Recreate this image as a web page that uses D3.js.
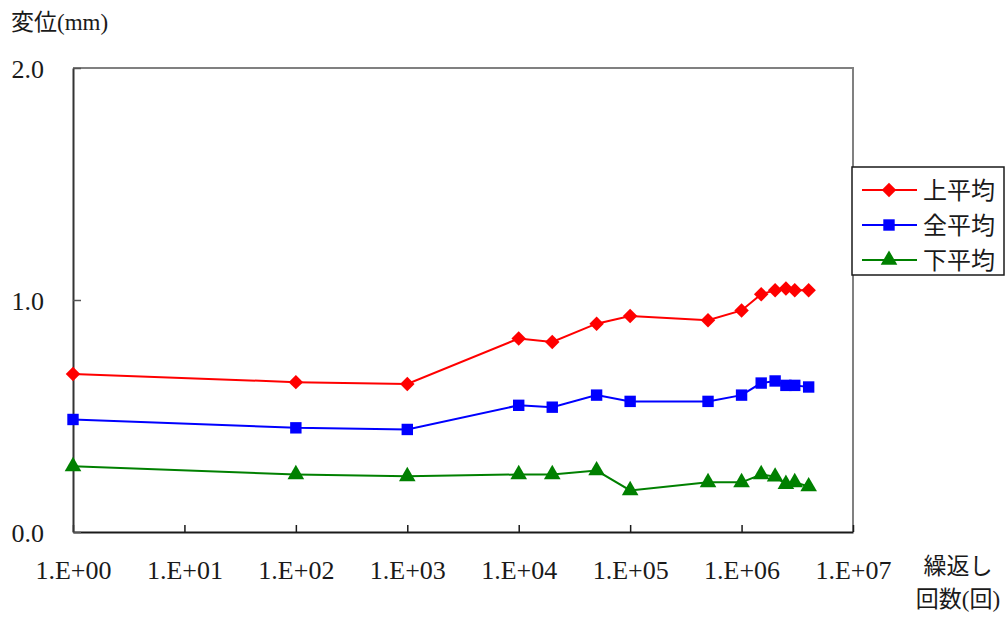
<!DOCTYPE html>
<html>
<head>
<meta charset="utf-8">
<script src="https://cdn.jsdelivr.net/npm/d3@7"></script>
<style>
  html, body { margin: 0; padding: 0; background: #fff; }
  svg { display: block; }
  text { font-family: "Liberation Serif", "Noto Sans CJK JP", serif; fill: #1a1a1a; }
  .jp { font-family: "Noto Sans CJK JP", "Liberation Serif", sans-serif; }
</style>
</head>
<body>
<svg id="chart" width="1008" height="617"></svg>
<script>
// Cycle counts (x) and average displacement in mm for each gauge group
const cycles = [1, 100, 1000, 1e4, 2e4, 5e4, 1e5, 5e5, 1e6, 1.5e6, 2e6, 2.5e6, 3e6, 4e6];
const upperAvg = [0.681, 0.646, 0.638, 0.834, 0.819, 0.898, 0.931, 0.913, 0.955, 1.025, 1.042, 1.050, 1.042, 1.042];
const totalAvg = [0.485, 0.449, 0.442, 0.546, 0.538, 0.590, 0.563, 0.563, 0.590, 0.642, 0.651, 0.632, 0.632, 0.625];
const lowerAvg = [0.283, 0.248, 0.240, 0.248, 0.248, 0.265, 0.179, 0.214, 0.214, 0.248, 0.238, 0.206, 0.214, 0.196];

const seriesNames = ["上平均", "全平均", "下平均"];
const seriesColors = ["#ff0000", "#0000ff", "#008000"];
// Diamond is drawn as a square turned 45 degrees
const seriesSymbols = [d3.symbolSquare, d3.symbolSquare, d3.symbolTriangle];
const symbolSizes = [105, 130, 120];
const symbolRotate = [45, 0, 0];

const xTicks = [1, 10, 100, 1e3, 1e4, 1e5, 1e6, 1e7];
const yTicks = [0, 1, 2];

const series = [upperAvg, totalAvg, lowerAvg];

const svg = d3.select("#chart");
const plot = { left: 73, right: 853, top: 68, bottom: 532 };

const x = d3.scaleLog().domain([1, 1e7]).range([plot.left, plot.right]);
const y = d3.scaleLinear().domain([0, 2]).range([plot.bottom, plot.top]);

// Plot frame: grey top/right edges
svg.append("path")
  .attr("d", `M${plot.left},${plot.top}H${plot.right}V${plot.bottom}`)
  .attr("fill", "none").attr("stroke", "#808080").attr("stroke-width", 2);

// X axis with inward ticks
const xAxis = svg.append("g")
  .attr("transform", `translate(0,${plot.bottom})`)
  .call(d3.axisBottom(x).tickValues(xTicks).tickSizeInner(-7).tickSizeOuter(0)
    .tickFormat(d => "1.E+" + String(Math.round(Math.log10(d))).padStart(2, "0")));
xAxis.select(".domain").attr("stroke", "#1a1a1a").attr("stroke-width", 2);
xAxis.selectAll(".tick line").attr("stroke", "#1a1a1a").attr("stroke-width", 1.5);
xAxis.selectAll(".tick text")
  .attr("y", 47).attr("dy", 0)
  .style("font-size", "26px").style("font-family", "Liberation Serif").attr("fill", "#1a1a1a");

// Y axis with inward ticks
const yAxis = svg.append("g")
  .attr("transform", `translate(${plot.left},0)`)
  .call(d3.axisLeft(y).tickValues(yTicks).tickSizeInner(-8).tickSizeOuter(0).tickFormat(d3.format(".1f")));
yAxis.select(".domain").attr("stroke", "#333").attr("stroke-width", 2);
yAxis.selectAll(".tick line").attr("stroke", "#555").attr("stroke-width", 1.5);
yAxis.selectAll(".tick text")
  .attr("x", -29).attr("dy", "0.36em")
  .style("font-size", "26px").style("font-family", "Liberation Serif").attr("fill", "#1a1a1a");

// Series lines and markers
const line = d3.line().x((d, i) => x(cycles[i])).y(d => y(d));
series.forEach((vals, s) => {
  svg.append("path")
    .datum(vals)
    .attr("d", line)
    .attr("fill", "none")
    .attr("stroke", seriesColors[s])
    .attr("stroke-width", 2);
  svg.append("g").selectAll("path")
    .data(vals)
    .join("path")
    .attr("d", d3.symbol(seriesSymbols[s], symbolSizes[s]))
    .attr("transform", (d, i) => `translate(${x(cycles[i])},${y(d)}) rotate(${symbolRotate[s]})`)
    .attr("fill", seriesColors[s]);
});

// Legend
const legend = svg.append("g").attr("transform", "translate(852,167)");
legend.append("rect")
  .attr("width", 152).attr("height", 108)
  .attr("fill", "#fff").attr("stroke", "#1a1a1a").attr("stroke-width", 1.5);
seriesNames.forEach((name, s) => {
  const ry = 23 + s * 35;
  legend.append("line")
    .attr("x1", 10).attr("x2", 65).attr("y1", ry).attr("y2", ry)
    .attr("stroke", seriesColors[s]).attr("stroke-width", 2);
  legend.append("path")
    .attr("d", d3.symbol(seriesSymbols[s], symbolSizes[s]))
    .attr("transform", `translate(37,${ry}) rotate(${symbolRotate[s]})`)
    .attr("fill", seriesColors[s]);
  legend.append("text")
    .attr("class", "jp")
    .attr("x", 71).attr("y", ry).attr("dy", "0.36em")
    .style("font-size", "24px")
    .attr("fill", "#1a1a1a")
    .text(name);
});

// Axis titles
svg.append("text")
  .attr("x", 11).attr("y", 30)
  .style("font-size", "23px")
  .text("変位(mm)");

svg.append("text")
  .attr("x", 958).attr("y", 574).attr("text-anchor", "middle")
  .style("font-size", "23px")
  .text("繰返し");
svg.append("text")
  .attr("x", 958).attr("y", 607).attr("text-anchor", "middle")
  .style("font-size", "23px")
  .text("回数(回)");
</script>
</body>
</html>
